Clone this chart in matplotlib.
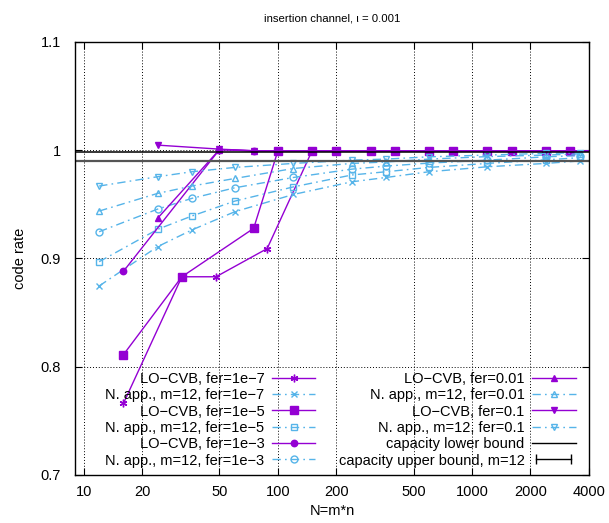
import matplotlib; matplotlib.use("Agg")
import matplotlib.pyplot as plt
from matplotlib.lines import Line2D
from matplotlib.legend_handler import HandlerLine2D
from matplotlib.ticker import FixedLocator, FixedFormatter, FormatStrFormatter, NullLocator

plt.rcParams['font.family'] = ['Liberation Sans', 'DejaVu Sans']
plt.rcParams['font.size'] = 10.5

PURPLE = "#9400d3"; BLUE = "#56b4e9"

# normal approximation, m=12
N_app = [12, 24, 36, 60, 120, 240, 360, 600, 1200, 2400, 3600]
napp_1e7 = [0.8745, 0.9108, 0.9262, 0.9431, 0.9590, 0.9707, 0.9747, 0.9800, 0.9846, 0.9877, 0.9900]
napp_1e5 = [0.8969, 0.9268, 0.9391, 0.9529, 0.9660, 0.9770, 0.9800, 0.9840, 0.9877, 0.9910, 0.9930]
napp_1e3 = [0.9246, 0.9455, 0.9554, 0.9652, 0.9747, 0.9824, 0.9852, 0.9880, 0.9907, 0.9938, 0.9950]
napp_1e2 = [0.9437, 0.9600, 0.9668, 0.9738, 0.9830, 0.9877, 0.9890, 0.9917, 0.9940, 0.9954, 0.9965]
napp_1e1 = [0.9668, 0.9754, 0.9800, 0.9840, 0.9877, 0.9907, 0.9917, 0.9938, 0.9954, 0.9970, 0.9975]

# LO-CVB codes
tail_N = [150, 200, 300, 400, 600, 800, 1200, 1600, 2400, 3200, 4800]
tail_r = [0.9994] * len(tail_N)
cvb_1e7_N = [16, 32, 48, 88] + tail_N
cvb_1e7 = [0.766, 0.883, 0.883, 0.909] + tail_r
cvb_1e5_N = [16, 32, 75, 100] + tail_N
cvb_1e5 = [0.811, 0.883, 0.9277, 0.9994] + tail_r
cvb_1e3_N = [16, 50, 75, 100] + tail_N
cvb_1e3 = [0.888, 1.0005, 0.9992, 0.9994] + tail_r
cvb_1e2_N = [24, 50, 75, 100] + tail_N
cvb_1e2 = [0.937, 1.0005, 0.9994, 0.9994] + tail_r
cvb_1e1_N = [24, 50, 75, 100] + tail_N
cvb_1e1 = [1.0046, 1.0009, 0.9994, 0.9994] + tail_r

cap_lower = 0.990
cap_upper = 0.998

xticks = [10, 20, 50, 100, 200, 500, 1000, 2000, 4000]
yticks = [0.7, 0.8, 0.9, 1.0, 1.1]

fig = plt.figure(figsize=(6.09, 5.23), dpi=100)
ax = fig.add_axes([0.123, 0.092, 0.844, 0.828])

dd = (6, 3, 1.2, 3)
ax.plot(cvb_1e7_N, cvb_1e7, color=PURPLE, lw=1, marker=(6, 2, 0), ms=5.5, mew=1, label="LO−CVB, fer=1e−7")
ax.plot(N_app, napp_1e7, color=BLUE, lw=1, dashes=dd, marker="x", ms=5, mew=1, label="N. app., m=12, fer=1e−7")
ax.plot(cvb_1e5_N, cvb_1e5, color=PURPLE, lw=1, marker="s", ms=5.2, label="LO−CVB, fer=1e−5")
ax.plot(N_app, napp_1e5, color=BLUE, lw=1, dashes=dd, marker="s", ms=5, mfc="none", mew=1, label="N. app., m=12, fer=1e−5")
ax.plot(cvb_1e3_N, cvb_1e3, color=PURPLE, lw=1, marker="o", ms=4.6, label="LO−CVB, fer=1e−3")
ax.plot(N_app, napp_1e3, color=BLUE, lw=1, dashes=dd, marker="o", ms=5, mfc="none", mew=1, label="N. app., m=12, fer=1e−3")
ax.plot(cvb_1e2_N, cvb_1e2, color=PURPLE, lw=1, marker="^", ms=4.2, label="LO−CVB, fer=0.01")
ax.plot(N_app, napp_1e2, color=BLUE, lw=1, dashes=dd, marker="^", ms=5, mfc="none", mew=1, label="N. app., m=12, fer=0.01")
ax.plot(cvb_1e1_N, cvb_1e1, color=PURPLE, lw=1, marker="v", ms=4.2, label="LO−CVB, fer=0.1")
ax.plot(N_app, napp_1e1, color=BLUE, lw=1, dashes=dd, marker="v", ms=5, mfc="none", mew=1, label="N. app., m=12, fer=0.1")
ax.axhline(cap_lower, color="#555555", lw=1.6, label="capacity lower bound")
ax.axhline(cap_upper, color="black", lw=1.1)

ax.set_xscale("log")
ax.set_xlim(9, 4000)
ax.set_ylim(0.7, 1.1)
ax.xaxis.set_major_locator(FixedLocator(xticks))
ax.xaxis.set_major_formatter(FixedFormatter([str(t) for t in xticks]))
ax.xaxis.set_minor_locator(NullLocator())
ax.yaxis.set_major_locator(FixedLocator(yticks))
ax.yaxis.set_major_formatter(FormatStrFormatter("%g"))
ax.tick_params(direction="in", top=True, right=True, length=5, width=0.8)
ax.tick_params(axis="x", pad=7)
ax.tick_params(axis="y", pad=10)
ax.grid(True, color="black", ls=(0, (1, 2)), lw=0.7)
for s in ax.spines.values(): s.set_linewidth(1.0)

ax.set_title("insertion channel, ι = 0.001", fontsize=8.2, pad=15)
ax.set_xlabel("N=m*n", labelpad=4)
ax.set_ylabel("code rate", labelpad=10)

handles, labels = ax.get_legend_handles_labels()
lb_proxy = Line2D([], [], color="black", lw=1)
ub_proxy = Line2D([], [], color="black", lw=1, marker="|", ms=7, mew=1)
handles[-1] = lb_proxy
handles.append(ub_proxy); labels.append("capacity upper bound, m=12")
ax.legend(handles, labels, ncol=2, loc="lower right", bbox_to_anchor=(0.997, -0.01),
          markerfirst=False, frameon=False, handlelength=3.0, handletextpad=0.5,
          columnspacing=1.6, labelspacing=0.16, borderpad=0.3, fontsize=10.5,
          handler_map={ub_proxy: HandlerLine2D(numpoints=2)})

plt.savefig("out.png", dpi=100)
